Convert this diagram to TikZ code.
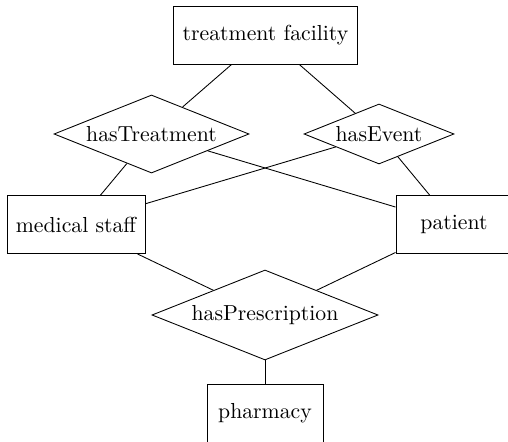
\documentclass[tikz,border=0pt]{standalone}
\usetikzlibrary{shapes.geometric}
\begin{document}
\begin{tikzpicture}[x=0.46pt,y=-0.46pt,
		entity/.style={draw,rectangle,inner xsep=4.1pt,minimum width=53.4pt,minimum height=26.7pt},
		relation/.style={draw,diamond,inner sep=0pt,aspect=2.5}]
		\useasboundingbox (0,0) rectangle (508,442);
		% entities
		\node[entity] (facility) at (265.5,35) {treatment facility};
		\node[entity] (staff) at (76,224.5) {medical staff};
		\node[entity] (patient) at (454,224.5) {patient};
		\node[entity] (pharmacy) at (265,413) {pharmacy};
		% relations
		\node[relation,minimum width=89.7pt,minimum height=35.9pt] (treat) at (151.5,134) {hasTreatment};
		\node[relation,minimum width=69pt,minimum height=27.6pt] (event) at (379,134) {hasEvent};
		\node[relation,minimum width=104pt,minimum height=41.4pt] (prescr) at (265,315) {hasPrescription};
		\draw (facility) -- (treat);
		\draw (facility) -- (event);
		\draw (treat) -- (staff);
		\draw (treat) -- (patient);
		\draw (event) -- (staff);
		\draw (event) -- (patient);
		\draw (staff) -- (prescr);
		\draw (patient) -- (prescr);
		\draw (prescr) -- (pharmacy);
\end{tikzpicture}
\end{document}
